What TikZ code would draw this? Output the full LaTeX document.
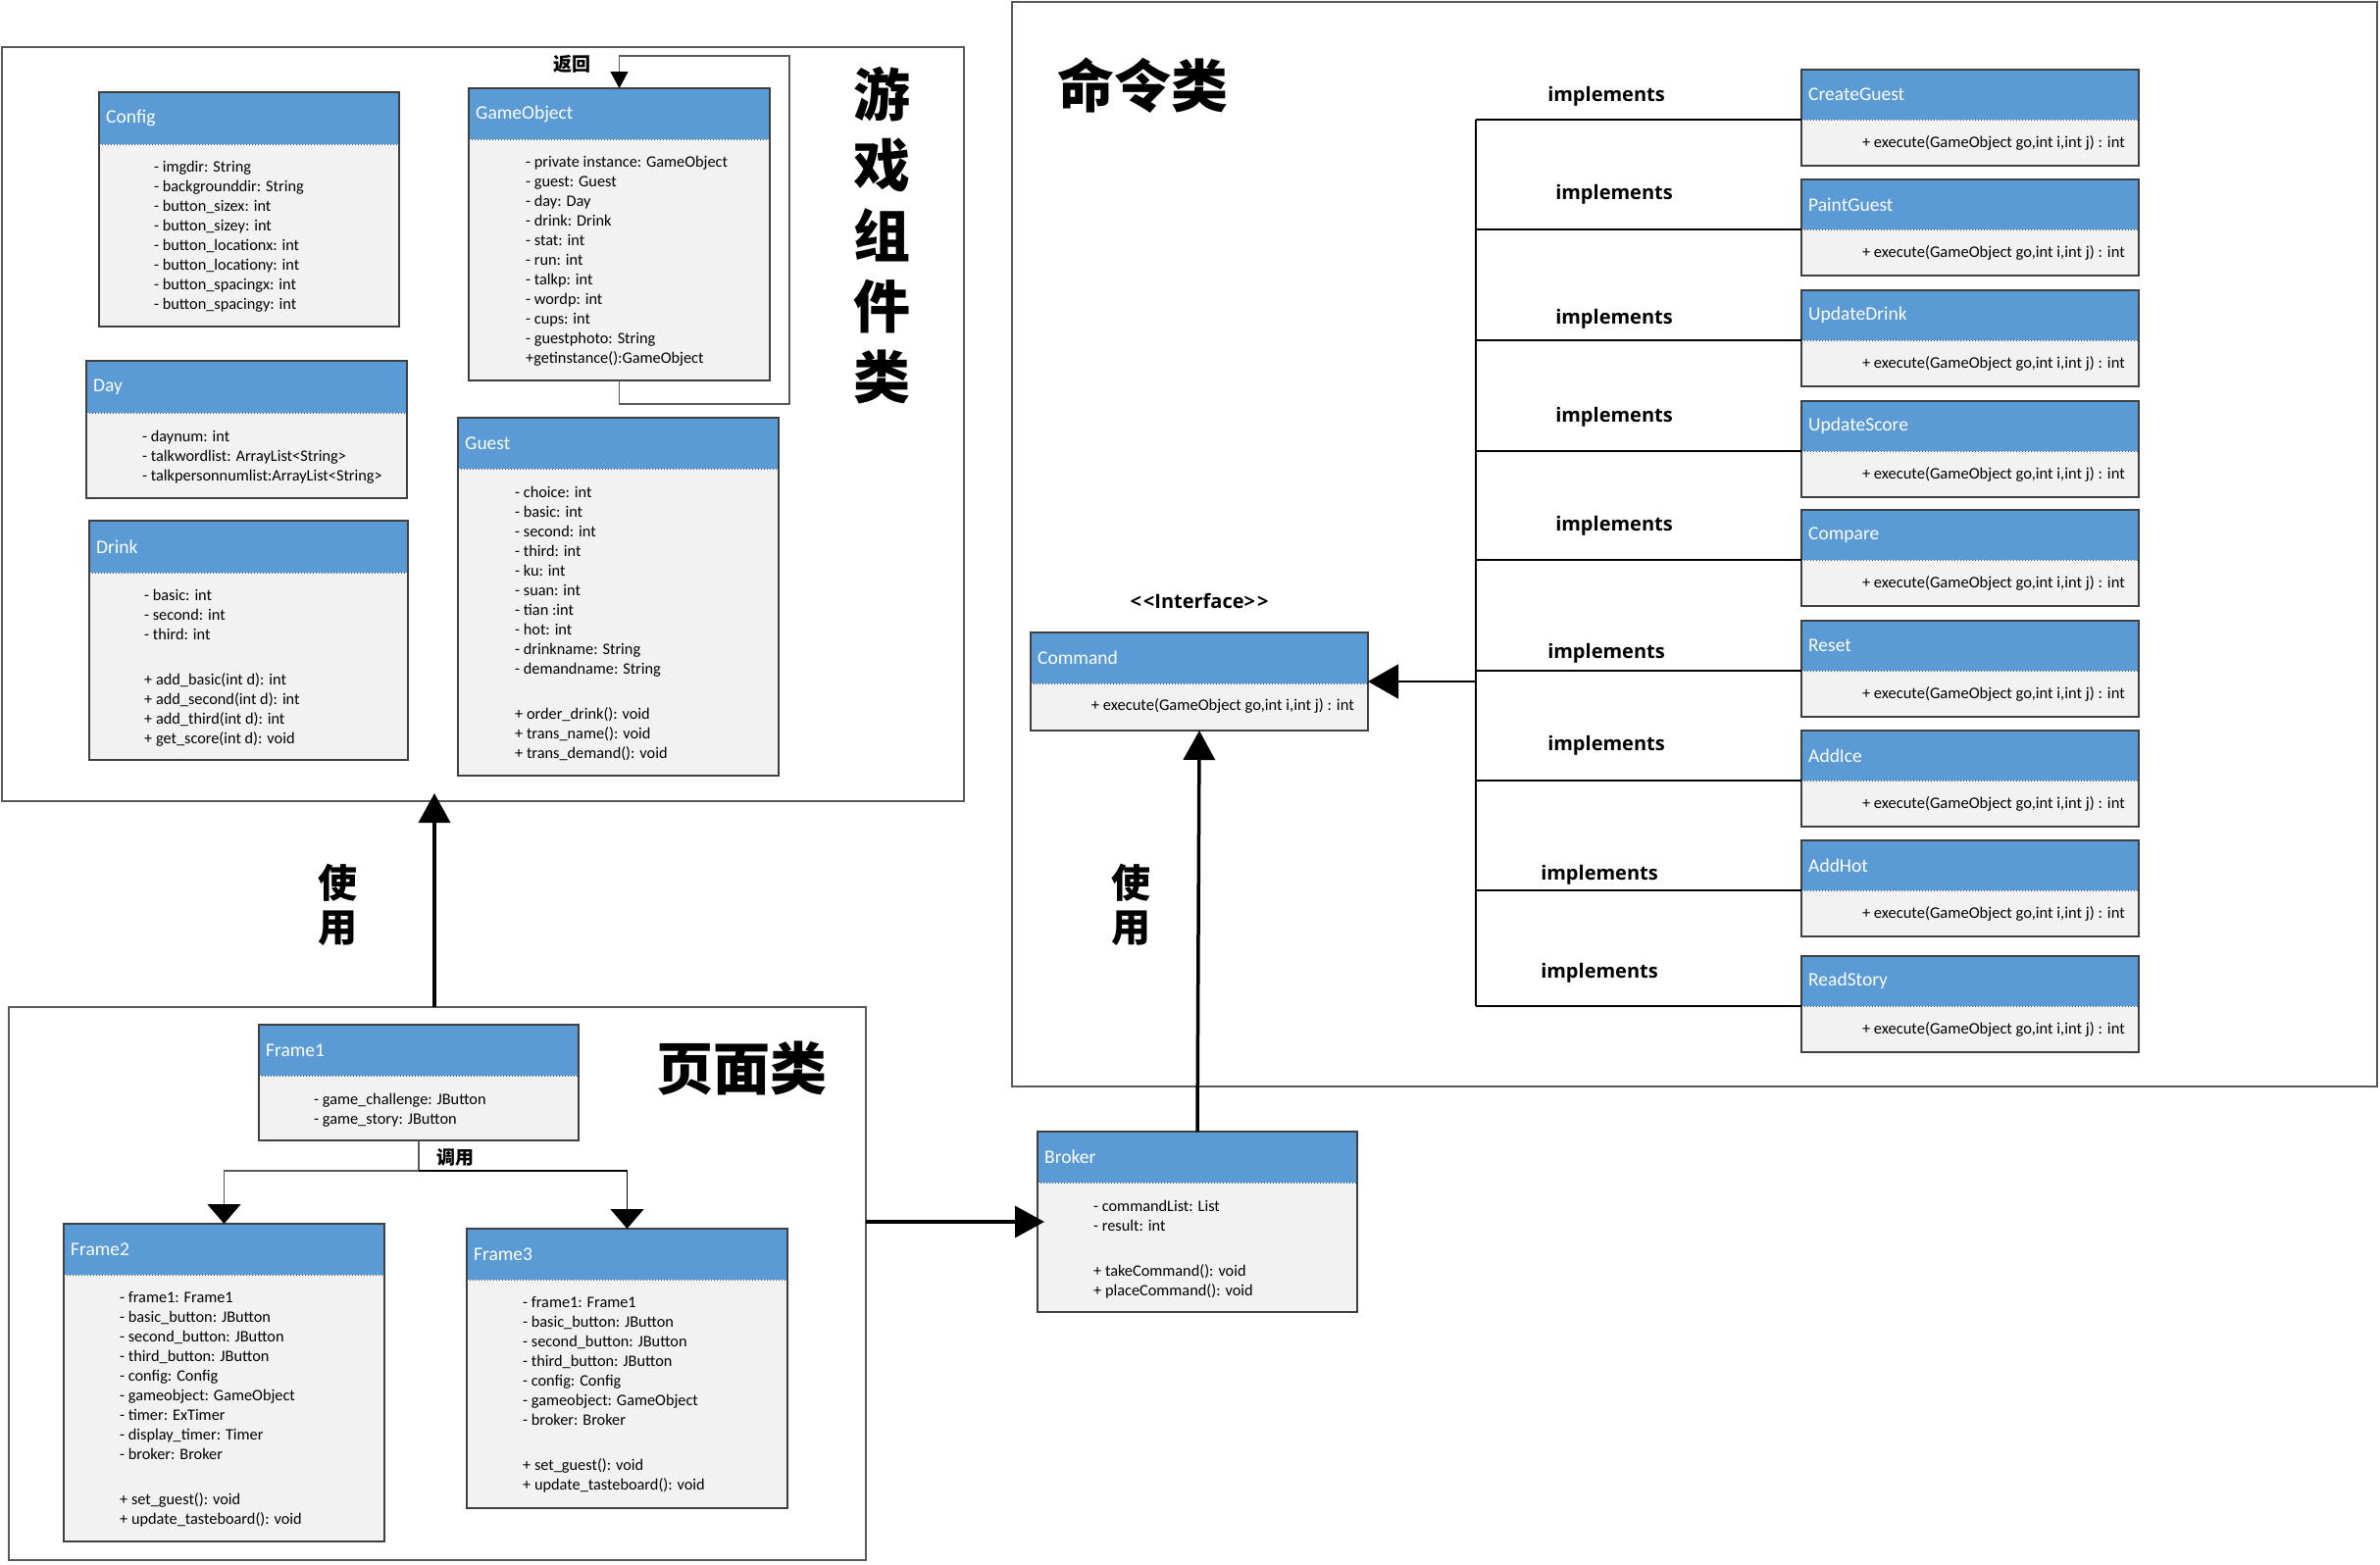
\documentclass[tikz,border=0pt]{standalone}
\usepackage{fontspec}
\setmainfont{Carlito}
\newfontfamily\cjk{Noto Sans CJK SC}
\newfontfamily\osans{Open Sans}
\usetikzlibrary{arrows.meta}
\definecolor{hdrc}{HTML}{5B9BD5}
\definecolor{bodyc}{HTML}{F2F2F2}
\definecolor{bordc}{HTML}{3F3F3F}
\definecolor{framec}{HTML}{595959}
\tikzset{
  classbody/.style={fill=bodyc, draw=none, anchor=north west, inner sep=0pt, outer sep=0pt, rectangle},
  sect/.style={draw=framec, line width=1.3pt, anchor=north west, inner sep=0pt, outer sep=0pt, rectangle},
  hdrtext/.style={anchor=west, text=white, font=\fontsize{19.5}{22}\selectfont, inner sep=0pt},
  hdrline/.style={draw=hdrc!55!black, dotted, line width=1pt},
  attr/.style={anchor=north west, inner sep=0pt, align=left, font=\fontsize{16.3}{20}\selectfont},
  exectext/.style={anchor=east, inner sep=0pt, font=\fontsize{16.5}{18}\selectfont},
  impl/.style={inner sep=0pt, font=\osans\bfseries\fontsize{20}{24}\selectfont},
  bigtitle/.style={inner sep=0pt, align=center, font=\cjk\bfseries\fontsize{58}{72}\selectfont},
  uselabel/.style={inner sep=0pt, align=center, font=\cjk\bfseries\fontsize{40}{45}\selectfont},
  smalllabel/.style={inner sep=0pt, font=\cjk\bfseries\fontsize{19}{22}\selectfont},
  bigarr/.style={line width=3.5pt, -{Triangle[length=30pt,width=32pt]}},
  callline/.style={draw=framec, line width=1.5pt, -{Triangle[length=20pt,width=34pt,black]}},
  loopline/.style={draw=framec, line width=1.5pt, -{Triangle[length=17pt,width=18pt,black]}},
  treeline/.style={draw=black, line width=1.6pt}
}
\newcommand\umlbox[7]{%
  \node[classbody, minimum width=#4pt, minimum height=#5pt] (#1) at (#2,#3) {};
  \fill[hdrc] (#1.north west) rectangle ([yshift=-#6pt]#1.north east);
  \draw[hdrline] ([yshift=-#6pt]#1.north west) -- ([yshift=-#6pt]#1.north east);
  \draw[bordc, line width=1.3pt] (#1.north west) rectangle (#1.south east);
  \node[hdrtext] (#1-t) at ([xshift=7pt,yshift=-#6pt/2]#1.north west) {#7};
}
\begin{document}
\begin{tikzpicture}[x=1pt,y=-1pt]
\useasboundingbox[fill=white] (0,0) rectangle (2427,1595);

% section frames
\node[sect, minimum width=981pt, minimum height=769pt] (gamebox) at (2,48) {};
\node[sect, minimum width=1392pt, minimum height=1106pt] (cmdbox) at (1032,2) {};
\node[sect, minimum width=874pt, minimum height=564pt] (pagebox) at (9,1027) {};

% section titles
\node[bigtitle] (t-game) at (899,240) {游\\戏\\组\\件\\类};
\node[bigtitle] (t-cmd) at (1165,87) {命令类};
\node[bigtitle] (t-page) at (756,1090) {页面类};

% game component classes
\umlbox{config}{101}{94}{306}{239}{53}{Config}
\node[attr] (config-a) at (157,161) {\strut- imgdir: String\\- backgrounddir: String\\- button\_sizex: int\\- button\_sizey: int\\- button\_locationx: int\\- button\_locationy: int\\- button\_spacingx: int\\- button\_spacingy: int};

\umlbox{day}{88}{368}{327}{140}{53}{Day}
\node[attr] (day-a) at (145,436) {\strut- daynum: int\\- talkwordlist: ArrayList<String>\\- talkpersonnumlist:ArrayList<String>};

\umlbox{drink}{91}{531}{325}{244}{53}{Drink}
\node[attr] (drink-a) at (147,598) {\strut- basic: int\\- second: int\\- third: int\\[26pt]+ add\_basic(int d): int\\+ add\_second(int d): int\\+ add\_third(int d): int\\+ get\_score(int d): void};

\umlbox{gameobject}{478}{90}{307}{298}{52}{GameObject}
\node[attr] (gameobject-a) at (536,156) {\strut- private instance: GameObject\\- guest: Guest\\- day: Day\\- drink: Drink\\- stat: int\\- run: int\\- talkp: int\\- wordp: int\\- cups: int\\- guestphoto: String\\+getinstance():GameObject};

\umlbox{guest}{467}{426}{327}{365}{52}{Guest}
\node[attr] (guest-a) at (525,493) {\strut- choice: int\\- basic: int\\- second: int\\- third: int\\- ku: int\\- suan: int\\- tian :int\\- hot: int\\- drinkname: String\\- demandname: String\\[26pt]+ order\_drink(): void\\+ trans\_name(): void\\+ trans\_demand(): void};

% GameObject self loop
\coordinate (loopA) at (805,412);
\coordinate (loopB) at (805,57);
\draw[loopline] (gameobject.south) |- (loopA) -- (loopB) -| (gameobject.north);
\node[smalllabel] (ret) at (583,65) {返回};

% page classes
\umlbox{frame1}{264}{1045}{326}{118}{52}{Frame1}
\node[attr] (frame1-a) at (320,1112) {\strut- game\_challenge: JButton\\- game\_story: JButton};

\umlbox{frame2}{65}{1248}{327}{324}{52}{Frame2}
\node[attr] (frame2-a) at (122,1314) {\strut- frame1: Frame1\\- basic\_button: JButton\\- second\_button: JButton\\- third\_button: JButton\\- config: Config\\- gameobject: GameObject\\- timer: ExTimer\\- display\_timer: Timer\\- broker: Broker\\[26pt]+ set\_guest(): void\\+ update\_tasteboard(): void};

\umlbox{frame3}{476}{1253}{327}{285}{52}{Frame3}
\node[attr] (frame3-a) at (533,1319) {\strut- frame1: Frame1\\- basic\_button: JButton\\- second\_button: JButton\\- third\_button: JButton\\- config: Config\\- gameobject: GameObject\\- broker: Broker\\[26pt]+ set\_guest(): void\\+ update\_tasteboard(): void};

\draw[callline] (frame1.south) -- (frame1.south |- 0,1194) -| (frame2.north);
\draw[callline, draw=black] (frame1.south |- 0,1194) -| (frame3.north);
\node[smalllabel] (call) at (464,1180) {调用};

% broker and command
\umlbox{broker}{1058}{1154}{326}{184}{52}{Broker}
\node[attr] (broker-a) at (1115,1221) {\strut- commandList: List\\- result: int\\[26pt]+ takeCommand(): void\\+ placeCommand(): void};

\umlbox{command}{1051}{645}{344}{100}{52}{Command}
\node[exectext] (command-a) at ([xshift=-14pt,yshift=-75pt]command.north east) {+ execute(GameObject go,int i,int j) : int};
\node[impl] (iface) at (1223,613) {<\kern2pt<Interface>\kern2pt>};

% command implementations
\foreach \n/\t/\yy in {cg/CreateGuest/71, pg/PaintGuest/183, ud/UpdateDrink/296, us/UpdateScore/409, cp/Compare/520, rs/Reset/633, ai/AddIce/745, ah/AddHot/857, rd/ReadStory/975}{
  \umlbox{\n}{1837}{\yy}{344}{98}{51}{\t}
  \node[exectext] (\n-a) at ([xshift=-14pt,yshift=-75pt]\n.north east) {+ execute(GameObject go,int i,int j) : int};
  \coordinate (\n-hb) at ([yshift=-51pt]\n.north west);
}
\coordinate (trunk) at (1505,695);
\draw[treeline] (cg-hb -| trunk) -- (rd-hb -| trunk);
\foreach \n in {cg,pg,ud,us,cp,rs,ai,ah,rd}{
  \draw[treeline] (\n-hb -| trunk) -- (\n-hb);
}
\draw[treeline, -{Triangle[length=31pt,width=35pt]}] (trunk) -- (command.east);

\node[impl] (im1) at (1638,98) {implements};
\node[impl] (im2) at (1646,198) {implements};
\node[impl] (im3) at (1646,325) {implements};
\node[impl] (im4) at (1646,425) {implements};
\node[impl] (im5) at (1646,536) {implements};
\node[impl] (im6) at (1638,666) {implements};
\node[impl] (im7) at (1638,760) {implements};
\node[impl] (im8) at (1631,892) {implements};
\node[impl] (im9) at (1631,992) {implements};

% big "use" arrows
\draw[bigarr, shorten >=-8pt] (pagebox.north -| 443,0) -- (gamebox.south -| 443,0);
\draw[bigarr, shorten >=-7pt] (pagebox.east |- broker.west) -- (broker.west);
\draw[bigarr] (broker.north) -- (command.south);
\node[uselabel] (use1) at (344,923) {使\\用};
\node[uselabel] (use2) at (1153,923) {使\\用};
\end{tikzpicture}
\end{document}
